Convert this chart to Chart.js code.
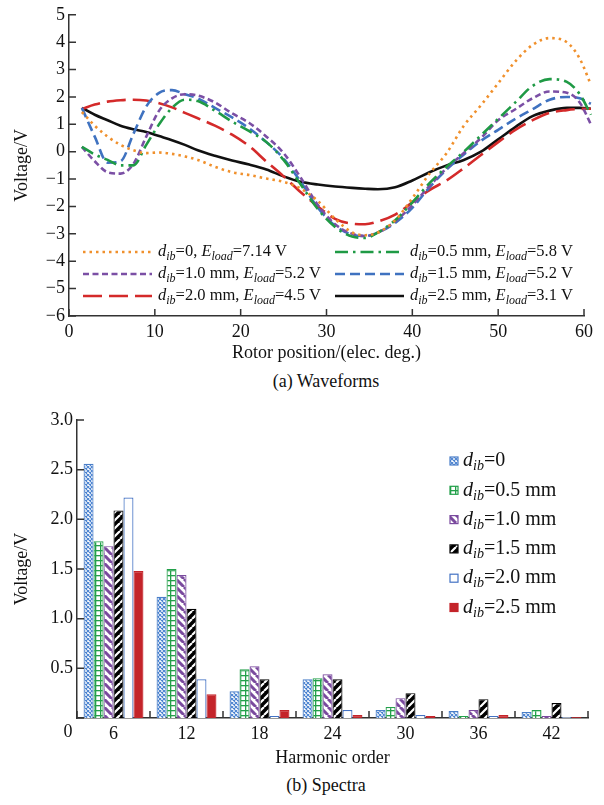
<!DOCTYPE html>
<html>
<head>
<meta charset="utf-8">
<script src="https://cdn.jsdelivr.net/npm/chart.js@4.4.0/dist/chart.umd.min.js"></script>
<style>
  body { margin: 0; background: #fff; width: 604px; height: 805px; position: relative; font-family: "Liberation Serif", serif; overflow: hidden; }
  #wrapA { position: absolute; left: 0; top: 0; width: 604px; height: 368px; }
  #wrapB { position: absolute; left: 0; top: 395px; width: 604px; height: 375px; }
  .cap { position: absolute; left: 50px; width: 552px; text-align: center; font-size: 18px; color: #111; }
</style>
</head>
<body>
<div id="wrapA"><canvas id="waveChart" width="604" height="368"></canvas></div>
<div class="cap" style="top:371px">(a) Waveforms</div>
<div id="wrapB"><canvas id="specChart" width="604" height="375"></canvas></div>
<div class="cap" style="top:775px">(b) Spectra</div>
<script>
// waveform data (rotor position in elec. deg., voltage in V)
const positions = [1.5, 3, 4.5, 6, 7.5, 9, 10.5, 12, 13.5, 15, 17, 19, 21, 23, 25, 27, 29, 31, 33, 34.5, 36, 38, 40, 42, 44, 46, 48, 50, 52, 54, 56, 58, 59.5, 60.8];
const wave_d00 = [1.45, 0.95, 0.55, 0.25, 0.05, -0.05, -0.03, -0.08, -0.17, -0.3, -0.55, -0.75, -0.85, -0.98, -1.1, -1.35, -1.8, -2.45, -2.95, -3.05, -2.95, -2.5, -1.7, -0.8, -0.05, 0.95, 1.7, 2.5, 3.3, 3.9, 4.15, 4.0, 3.4, 2.45];
const wave_d05 = [0.18, -0.1, -0.3, -0.5, -0.5, 0.25, 1.0, 1.6, 1.9, 1.85, 1.5, 1.1, 0.75, 0.35, -0.3, -1.2, -2.1, -2.75, -3.1, -3.15, -2.95, -2.5, -1.85, -1.15, -0.55, 0.0, 0.6, 1.2, 1.8, 2.4, 2.65, 2.55, 2.1, 1.35];
const wave_d10 = [0.18, -0.35, -0.75, -0.8, -0.45, 0.55, 1.5, 1.95, 2.1, 2.05, 1.8, 1.4, 1.05, 0.55, -0.05, -0.95, -1.95, -2.65, -3.0, -3.08, -2.95, -2.55, -1.95, -1.25, -0.6, -0.05, 0.5, 1.15, 1.55, 1.95, 2.2, 2.15, 1.8, 1.0];
const wave_d15 = [1.6, 0.55, -0.4, -0.35, 0.65, 1.65, 2.15, 2.25, 2.1, 1.95, 1.6, 1.25, 0.85, 0.35, -0.25, -1.1, -2.05, -2.7, -3.03, -3.08, -2.95, -2.6, -2.05, -1.3, -0.65, -0.1, 0.4, 0.8, 1.2, 1.55, 1.9, 2.0, 1.95, 1.75];
const wave_d20 = [1.56, 1.72, 1.83, 1.88, 1.9, 1.87, 1.77, 1.62, 1.42, 1.22, 0.95, 0.62, 0.2, -0.36, -0.9, -1.48, -2.0, -2.45, -2.63, -2.65, -2.55, -2.3, -1.85, -1.4, -1.05, -0.6, -0.12, 0.35, 0.8, 1.15, 1.42, 1.52, 1.56, 1.57];
const wave_d25 = [1.6, 1.35, 1.15, 0.95, 0.82, 0.72, 0.57, 0.42, 0.25, 0.05, -0.15, -0.32, -0.47, -0.65, -0.9, -1.1, -1.2, -1.27, -1.32, -1.35, -1.37, -1.3, -1.05, -0.75, -0.5, -0.3, 0.0, 0.45, 0.9, 1.3, 1.5, 1.6, 1.6, 1.57];

// legend texts
const dibLabels = ['0', '0.5 mm', '1.0 mm', '1.5 mm', '2.0 mm', '2.5 mm'];
const eloadLabels = ['7.14 V', '5.8 V', '5.2 V', '5.2 V', '4.5 V', '3.1 V'];

// spectra data
const harmonics = ['6', '12', '18', '24', '30', '36', '42'];
const spec_d00 = [2.56, 1.22, 0.27, 0.39, 0.08, 0.07, 0.06];
const spec_d05 = [1.78, 1.50, 0.49, 0.40, 0.11, 0.02, 0.08];
const spec_d10 = [1.73, 1.44, 0.52, 0.44, 0.20, 0.08, 0.02];
const spec_d15 = [2.09, 1.10, 0.39, 0.39, 0.25, 0.19, 0.15];
const spec_d20 = [2.22, 0.39, 0.02, 0.08, 0.03, 0.02, 0.01];
const spec_d25 = [1.48, 0.24, 0.08, 0.03, 0.02, 0.03, 0.01];

const SERIF = '"Liberation Serif", "Times New Roman", serif';
Chart.defaults.font.family = SERIF;
Chart.defaults.color = '#111';

// draws d_ib=..., E_load=... with italics and subscripts
function drawRich(ctx, x, y, parts, size) {
  const sub = Math.round(size * 0.7);
  parts.forEach(p => {
    ctx.font = (p.it ? 'italic ' : '') + (p.sub ? sub : size) + 'px ' + SERIF;
    ctx.fillText(p.t, x, y + (p.sub ? size * 0.28 : 0));
    x += ctx.measureText(p.t).width;
  });
}

function minus(v) { return String(v).replace('-', '\u2212'); }

// small inward ticks (axes of the original plots point inward)
const inwardTicks = {
  id: 'inwardTicks',
  afterDraw(chart) {
    const {ctx, chartArea} = chart;
    const xs = chart.scales.x, ys = chart.scales.y;
    let xPix;
    if (xs.type === 'category') {
      const n = xs.ticks.length;
      xPix = [xs.left, xs.right];
      for (let i = 0; i < n - 1; i++) xPix.push((xs.getPixelForTick(i) + xs.getPixelForTick(i + 1)) / 2);
    } else {
      xPix = xs.ticks.map(t => xs.getPixelForValue(t.value));
    }
    ctx.save();
    ctx.strokeStyle = '#333';
    ctx.lineWidth = 1.5;
    ctx.beginPath();
    xPix.forEach(px => { ctx.moveTo(px, chartArea.bottom); ctx.lineTo(px, chartArea.bottom - 7); });
    ys.ticks.forEach(t => {
      const py = ys.getPixelForValue(t.value);
      ctx.moveTo(chartArea.left, py); ctx.lineTo(chartArea.left + 7, py);
    });
    ctx.stroke();
    ctx.restore();
  }
};

// ---------- (a) waveforms ----------
const waveSeries = [wave_d00, wave_d05, wave_d10, wave_d15, wave_d20, wave_d25];
const waveColors = ['#f0902c', '#1f9a45', '#7b4fa5', '#3f72c0', '#d42a2a', '#111111'];
const waveDash = [[2.5, 4], [13, 5, 2.5, 5], [6, 3.5], [10, 5], [19, 7], []];

const waveLegend = {
  id: 'waveLegend',
  afterDatasetsDraw(chart) {
    const ctx = chart.ctx;
    const cols = [83, 335], rows = [252, 274, 296];
    ctx.save();
    chart.data.datasets.forEach((ds, i) => {
      const x = cols[i % 2], y = rows[Math.floor(i / 2)];
      ctx.strokeStyle = ds.borderColor;
      ctx.lineWidth = ds.borderWidth;
      ctx.setLineDash(ds.borderDash);
      ctx.beginPath(); ctx.moveTo(x, y); ctx.lineTo(x + 69, y); ctx.stroke();
      ctx.setLineDash([]);
      ctx.fillStyle = '#111';
      ctx.textBaseline = 'middle';
      drawRich(ctx, x + 75, y, [
        {t: 'd', it: true}, {t: 'ib', it: true, sub: true}, {t: '=' + dibLabels[i] + ', '},
        {t: 'E', it: true}, {t: 'load', it: true, sub: true}, {t: '=' + eloadLabels[i]}
      ], 16.5);
    });
    ctx.restore();
  }
};

new Chart(document.getElementById('waveChart').getContext('2d'), {
  type: 'line',
  data: {
    datasets: waveSeries.map((s, i) => ({
      label: 'dib=' + dibLabels[i],
      data: positions.map((p, k) => ({x: p, y: s[k]})),
      borderColor: waveColors[i],
      borderWidth: 2.6,
      borderDash: waveDash[i],
      pointRadius: 0,
      cubicInterpolationMode: 'monotone',
      clip: false,
      fill: false
    }))
  },
  options: {
    responsive: false,
    animation: false,
    layout: { padding: { left: 0, right: 20, top: 12, bottom: 0 } },
    plugins: { legend: { display: false }, tooltip: { enabled: false } },
    scales: {
      x: {
        type: 'linear', min: 0, max: 60,
        ticks: { stepSize: 10, padding: 5, font: { size: 18 }, color: '#111' },
        grid: { display: false, drawTicks: false },
        border: { display: true, color: '#333', width: 1.5 },
        title: { display: true, text: 'Rotor position/(elec. deg.)', font: { size: 18 }, color: '#111', padding: { top: 0, bottom: 4 } },
        afterFit(scale) { scale.height = 52; }
      },
      y: {
        min: -6, max: 5,
        ticks: { stepSize: 1, padding: 4, font: { size: 18 }, color: '#111', callback: v => minus(v) },
        grid: { display: false, drawTicks: false },
        border: { display: true, color: '#333', width: 1.5 },
        title: { display: true, text: 'Voltage/V', font: { size: 18 }, color: '#111', padding: { top: 11, bottom: 0 } },
        afterFit(scale) { scale.width = 69; }
      }
    }
  },
  plugins: [inwardTicks, waveLegend]
});

// ---------- (b) spectra ----------
const specCtx = document.getElementById('specChart').getContext('2d');

function makePattern(size, draw) {
  const c = document.createElement('canvas');
  c.width = size; c.height = size;
  draw(c.getContext('2d'), size);
  return specCtx.createPattern(c, 'repeat');
}

const patCross = makePattern(4, (g, s) => {
  g.fillStyle = '#fff'; g.fillRect(0, 0, s, s);
  g.strokeStyle = '#4a82d0'; g.lineWidth = 1.1;
  g.beginPath(); g.moveTo(0, 0); g.lineTo(s, s); g.moveTo(s, 0); g.lineTo(0, s); g.stroke();
});
const patGrid = makePattern(5, (g, s) => {
  g.fillStyle = '#fff'; g.fillRect(0, 0, s, s);
  g.fillStyle = '#23a04a'; g.fillRect(0, 0, s, 1.3); g.fillRect(0, 0, 1.3, s);
});
const patPurple = makePattern(8, (g, s) => {
  g.fillStyle = '#fff'; g.fillRect(0, 0, s, s);
  g.strokeStyle = '#7a4a9e'; g.lineWidth = 3;
  g.beginPath();
  [-s, 0, s].forEach(k => { g.moveTo(k, 0); g.lineTo(k + s, s); });
  g.stroke();
});
const patBlack = makePattern(8, (g, s) => {
  g.fillStyle = '#000'; g.fillRect(0, 0, s, s);
  g.strokeStyle = '#fff'; g.lineWidth = 2.2;
  g.beginPath();
  [-s, 0, s].forEach(k => { g.moveTo(k + s, 0); g.lineTo(k, s); });
  g.stroke();
});

const specSeries = [spec_d00, spec_d05, spec_d10, spec_d15, spec_d20, spec_d25];
const specFills = [patCross, patGrid, patPurple, patBlack, '#ffffff', '#c4242a'];
const specBorders = ['#4a7ec8', '#23a04a', '#7a4a9e', '#000000', '#4372c4', '#c4242a'];

const specLegend = {
  id: 'specLegend',
  afterDatasetsDraw(chart) {
    const ctx = chart.ctx;
    ctx.save();
    chart.data.datasets.forEach((ds, i) => {
      const y = 66 + i * 29.3;
      ctx.fillStyle = ds.backgroundColor;
      ctx.fillRect(450, y - 4, 8, 8);
      ctx.strokeStyle = ds.borderColor;
      ctx.lineWidth = 1.2;
      ctx.strokeRect(450, y - 4, 8, 8);
      ctx.fillStyle = '#111';
      ctx.textBaseline = 'middle';
      drawRich(ctx, 463, y, [
        {t: 'd', it: true}, {t: 'ib', it: true, sub: true}, {t: '=' + dibLabels[i]}
      ], 20);
    });
    // shared origin label
    const xs = chart.scales.x, ys = chart.scales.y;
    ctx.font = '18px ' + SERIF;
    ctx.textAlign = 'center';
    ctx.fillText('0', xs.left - 9, ys.bottom + 14);
    ctx.restore();
  }
};

new Chart(specCtx, {
  type: 'bar',
  data: {
    labels: harmonics,
    datasets: specSeries.map((s, i) => ({
      label: 'dib=' + dibLabels[i],
      data: s,
      backgroundColor: specFills[i],
      borderColor: specBorders[i],
      borderWidth: 1.2,
      barPercentage: 1,
      categoryPercentage: 0.82
    }))
  },
  options: {
    responsive: false,
    animation: false,
    layout: { padding: { left: 0, right: 16, top: 25, bottom: 0 } },
    plugins: { legend: { display: false }, tooltip: { enabled: false } },
    scales: {
      x: {
        ticks: { padding: 5, font: { size: 18 }, color: '#111' },
        grid: { display: false, drawTicks: false },
        border: { display: true, color: '#333', width: 1.5 },
        title: { display: true, text: 'Harmonic order', font: { size: 18 }, color: '#111', padding: { top: 0, bottom: 1 } },
        afterFit(scale) { scale.height = 52; }
      },
      y: {
        min: 0, max: 3,
        ticks: { stepSize: 0.5, padding: 4, font: { size: 18 }, color: '#111', callback: v => (v === 0 ? '' : v.toFixed(1)) },
        grid: { display: false, drawTicks: false },
        border: { display: true, color: '#333', width: 1.5 },
        title: { display: true, text: 'Voltage/V', font: { size: 18 }, color: '#111', padding: { top: 11, bottom: 0 } },
        afterFit(scale) { scale.width = 77; }
      }
    }
  },
  plugins: [inwardTicks, specLegend]
});
</script>
</body>
</html>
